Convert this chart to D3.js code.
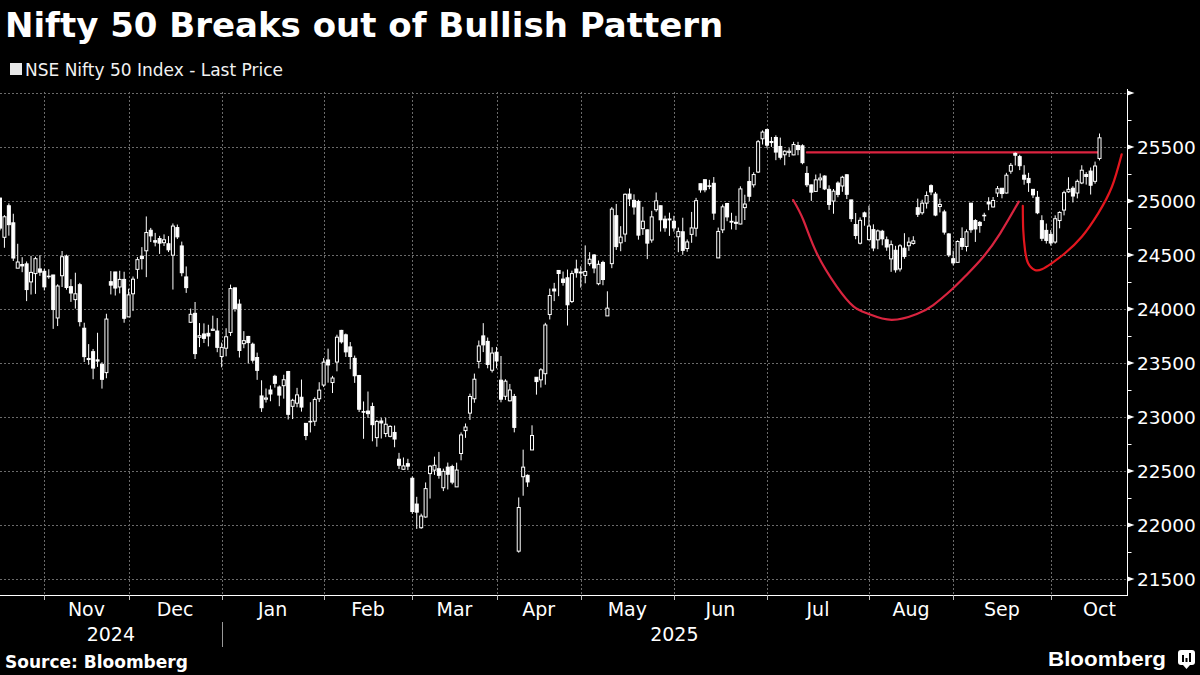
<!DOCTYPE html>
<html>
<head>
<meta charset="UTF-8">
<title>Nifty 50 Breaks out of Bullish Pattern</title>
<script src="https://d3js.org/d3.v7.min.js"></script>
<style>
  body { margin: 0; background: #000; }
  svg { display: block; background: #000; font-family: "DejaVu Sans", sans-serif; }
</style>
</head>
<body>
<svg id="chart" width="1200" height="675"></svg>
<script>
// trading days, one row per month
const dates = [
  "2024-10-17","2024-10-18","2024-10-21","2024-10-22","2024-10-23","2024-10-24","2024-10-25","2024-10-28","2024-10-29","2024-10-30","2024-10-31",
  "2024-11-01","2024-11-04","2024-11-05","2024-11-06","2024-11-07","2024-11-08","2024-11-11","2024-11-12","2024-11-13","2024-11-14","2024-11-18","2024-11-19","2024-11-21","2024-11-22","2024-11-25","2024-11-26","2024-11-27","2024-11-28","2024-11-29",
  "2024-12-02","2024-12-03","2024-12-04","2024-12-05","2024-12-06","2024-12-09","2024-12-10","2024-12-11","2024-12-12","2024-12-13","2024-12-16","2024-12-17","2024-12-18","2024-12-19","2024-12-20","2024-12-23","2024-12-24","2024-12-26","2024-12-27","2024-12-30","2024-12-31",
  "2025-01-01","2025-01-02","2025-01-03","2025-01-06","2025-01-07","2025-01-08","2025-01-09","2025-01-10","2025-01-13","2025-01-14","2025-01-15","2025-01-16","2025-01-17","2025-01-20","2025-01-21","2025-01-22","2025-01-23","2025-01-24","2025-01-27","2025-01-28","2025-01-29","2025-01-30","2025-01-31",
  "2025-02-01","2025-02-03","2025-02-04","2025-02-05","2025-02-06","2025-02-07","2025-02-10","2025-02-11","2025-02-12","2025-02-13","2025-02-14","2025-02-17","2025-02-18","2025-02-19","2025-02-20","2025-02-21","2025-02-24","2025-02-25","2025-02-27","2025-02-28",
  "2025-03-03","2025-03-04","2025-03-05","2025-03-06","2025-03-07","2025-03-10","2025-03-11","2025-03-12","2025-03-13","2025-03-17","2025-03-18","2025-03-19","2025-03-20","2025-03-21","2025-03-24","2025-03-25","2025-03-26","2025-03-27","2025-03-28",
  "2025-04-01","2025-04-02","2025-04-03","2025-04-04","2025-04-07","2025-04-08","2025-04-09","2025-04-11","2025-04-15","2025-04-16","2025-04-17","2025-04-21","2025-04-22","2025-04-23","2025-04-24","2025-04-25","2025-04-28","2025-04-29","2025-04-30",
  "2025-05-02","2025-05-05","2025-05-06","2025-05-07","2025-05-08","2025-05-09","2025-05-12","2025-05-13","2025-05-14","2025-05-15","2025-05-16","2025-05-19","2025-05-20","2025-05-21","2025-05-22","2025-05-23","2025-05-26","2025-05-27","2025-05-28","2025-05-29","2025-05-30",
  "2025-06-02","2025-06-03","2025-06-04","2025-06-05","2025-06-06","2025-06-09","2025-06-10","2025-06-11","2025-06-12","2025-06-13","2025-06-16","2025-06-17","2025-06-18","2025-06-19","2025-06-20","2025-06-23","2025-06-24","2025-06-25","2025-06-26","2025-06-27","2025-06-30",
  "2025-07-01","2025-07-02","2025-07-03","2025-07-04","2025-07-07","2025-07-08","2025-07-09","2025-07-10","2025-07-11","2025-07-14","2025-07-15","2025-07-16","2025-07-17","2025-07-18","2025-07-21","2025-07-22","2025-07-23","2025-07-24","2025-07-25","2025-07-28","2025-07-29","2025-07-30","2025-07-31",
  "2025-08-01","2025-08-04","2025-08-05","2025-08-06","2025-08-07","2025-08-08","2025-08-11","2025-08-12","2025-08-13","2025-08-14","2025-08-18","2025-08-19","2025-08-20","2025-08-21","2025-08-22","2025-08-25","2025-08-26","2025-08-28","2025-08-29",
  "2025-09-01","2025-09-02","2025-09-03","2025-09-04","2025-09-05","2025-09-08","2025-09-09","2025-09-10","2025-09-11","2025-09-12","2025-09-15","2025-09-16","2025-09-17","2025-09-18","2025-09-19","2025-09-22","2025-09-23","2025-09-24","2025-09-25","2025-09-26","2025-09-29","2025-09-30",
  "2025-10-01","2025-10-03","2025-10-06","2025-10-07","2025-10-08","2025-10-09","2025-10-10","2025-10-13","2025-10-14","2025-10-15","2025-10-16"
];

const opens = [
  25027,24664,24956,24798,24378,24412,24418,24251,24328,24371,24349,
  24302,24315,23917,24308,24489,24207,24087,24225,23822,23542,23605,23529,23488,23411,24253,24343,24204,24274,23927,
  24141,24367,24488,24539,24729,24633,24652,24614,24604,24498,24754,24584,24297,23877,23960,23738,23769,23775,23802,23796,23560,
  23637,23783,24196,24045,23679,23746,23674,23551,23195,23165,23250,23377,23278,23290,23421,23099,23128,23183,22941,22960,22961,23169,23296,
  23528,23319,23509,23802,23761,23649,23543,23384,23050,23055,23097,22809,22963,22847,22821,22857,22609,22516,22568,22433,
  22194,21975,22074,22476,22508,22521,22345,22536,22541,22353,22662,22874,23036,23169,23515,23751,23700,23433,23600,
  23341,23192,23150,23190,21758,22447,22460,22695,23368,23344,23401,23949,24185,24357,24277,24289,24070,24370,24342,
  24311,24420,24500,24234,24431,23936,24420,24864,24613,24694,25064,25006,24996,24744,24733,24639,24919,24956,24832,24825,24812,
  24669,24715,24560,24691,24748,25160,25197,25135,25164,24473,24733,24977,24804,24803,24787,24939,25180,25150,25268,25576,25661,
  25551,25588,25505,25428,25450,25427,25514,25511,25255,25149,25089,25196,25231,25108,24999,25166,25139,25243,25010,24782,24609,24890,24642,
  24735,24640,24720,24641,24464,24544,24371,24563,24586,24607,24938,24891,24980,25142,25064,24949,24899,24695,24466,
  24432,24653,24579,24980,24819,24802,24864,24991,24945,25074,25118,25074,25276,25441,25411,25239,25209,25108,25034,24818,24728,24691,
  24620,24819,24916,25085,25118,25074,25167,25245,25277,25182,25394
];

const highs = [
  25029,24869,24978,24882,24604,24480,24440,24492,24484,24498,24372,
  24368,24316,24229,24537,24503,24276,24336,24242,23873,23675,23630,23780,23507,23956,24351,24343,24354,24345,24188,
  24301,24481,24573,24857,24751,24705,24677,24691,24675,24792,24782,24624,24394,24004,24065,23870,23867,23854,23938,23916,23689,
  23822,24226,24196,24089,23795,23751,23689,23596,23340,23264,23293,23391,23292,23391,23427,23169,23270,23347,22942,23137,23183,23322,23546,
  23633,23381,23762,23807,23773,23694,23569,23390,23144,23236,23133,22974,22992,22994,22923,22921,22668,22625,22613,22450,
  22261,22105,22394,22556,22633,22677,22522,22578,22558,22577,22857,22940,23216,23402,23708,23869,23736,23646,23649,
  23565,23350,23306,23214,22255,22698,22468,22923,23368,23452,23872,24189,24242,24359,24347,24365,24355,24457,24396,
  24589,24526,24509,24449,24447,24164,24944,24973,24767,25070,25116,25062,25011,24946,24737,24909,25079,24958,24864,24892,24863,
  24754,24845,24644,24899,25029,25160,25199,25196,25222,24754,24967,24982,24891,24863,25136,25058,25317,25266,25565,25654,25669,
  25593,25608,25587,25470,25489,25548,25548,25525,25322,25151,25245,25255,25238,25145,25111,25182,25233,25247,25011,24889,24848,24902,24956,
  24784,24736,24733,24671,24634,24585,24600,24702,24664,24674,25022,25012,25089,25154,25084,25021,24919,24702,24541,
  24636,24756,24737,24980,24832,24814,24891,25035,25037,25139,25119,25261,25352,25449,25428,25331,25261,25111,25093,24868,24791,24731,
  24867,24904,25095,25220,25137,25199,25331,25267,25310,25365,25625
];

const lows = [
  24728,24567,24679,24445,24378,24341,24073,24134,24140,24307,24172,
  24280,23816,23842,24204,24179,24066,24004,23839,23509,23484,23350,23464,23263,23359,24135,24125,24145,23873,23927,
  23981,24280,24366,24295,24620,24580,24510,24583,24527,24180,24648,24303,24149,23870,23537,23647,23685,23654,23800,23600,23460,
  23562,23751,23976,23551,23637,23496,23503,23344,23047,23134,23146,23272,23100,23170,22977,22981,23090,23050,22786,22857,22917,23139,23277,
  23318,23222,23423,23680,23556,23443,23316,23046,22798,22992,22775,22725,22801,22814,22812,22720,22518,22513,22508,22105,
  21964,21965,22068,22245,22464,22429,22314,22329,22377,22353,22599,22807,22973,23132,23451,23601,23451,23412,23451,
  23136,23158,23145,22858,21744,22271,22353,22695,23207,23273,23299,23903,24073,24119,24216,23847,24055,24290,24198,
  24238,24400,24331,24220,24220,23936,24378,24547,24535,24621,24953,24874,24642,24686,24462,24614,24900,24717,24715,24677,24717,
  24526,24502,24530,24613,24671,25077,25081,25109,24825,24473,24703,24813,24737,24733,24784,24824,24999,25125,25259,25523,25489,
  25501,25378,25384,25331,25407,25424,25424,25340,25129,25001,25088,25121,25101,24918,24882,25035,25085,25018,24807,24646,24598,24771,24635,
  24535,24554,24590,24539,24344,24337,24347,24465,24539,24596,24852,24873,24930,25054,24859,24894,24689,24481,24404,
  24432,24547,24533,24706,24621,24706,24815,24915,24940,25037,25025,25070,25252,25329,25286,25151,25084,25027,24878,24629,24606,24587,
  24605,24747,24867,25076,24987,25024,25156,25152,25060,25160,25376
];

const closes = [
  24749,24854,24781,24472,24435,24399,24180,24339,24466,24341,24205,
  24304,23995,24213,24484,24199,24148,24141,23883,23559,23532,23453,23518,23349,23907,24221,24194,24274,23914,24131,
  24276,24457,24467,24708,24677,24619,24610,24641,24548,24768,24668,24336,24198,23951,23587,23753,23728,23750,23813,23645,23645,
  23743,24189,24005,23616,23707,23689,23526,23432,23086,23176,23213,23312,23203,23345,23025,23155,23205,23092,22829,22957,23163,23249,23508,
  23482,23361,23739,23696,23603,23560,23382,23072,23045,23031,22929,22959,22945,22933,22913,22796,22553,22547,22545,22125,
  22119,22083,22337,22545,22553,22460,22497,22470,22397,22509,22834,22907,23190,23350,23658,23668,23487,23592,23519,
  23165,23332,23250,22904,22162,22536,22399,22829,23328,23437,23852,24125,24167,24329,24246,24039,24328,24336,24334,
  24347,24461,24380,24414,24273,24008,24925,24578,24666,25062,25020,24945,24684,24813,24610,24853,25001,24826,24752,24834,24751,
  24717,24543,24621,24751,25003,25103,25104,25141,24888,24718,24946,24853,24812,24793,25112,24972,25044,25245,25549,25638,25517,
  25541,25453,25405,25461,25461,25523,25476,25355,25150,25082,25196,25212,25112,24968,25091,25061,25220,25062,24837,24681,24821,24855,24768,
  24565,24723,24650,24574,24596,24363,24585,24487,24619,24631,24877,24980,25051,25084,24870,24968,24712,24501,24427,
  24625,24580,24715,24734,24741,24773,24868,24973,25005,25114,25069,25239,25330,25424,25327,25202,25170,25057,24891,24655,24635,24611,
  24836,24894,25077,25108,25046,25182,25285,25227,25146,25324,25585
];

// hand-drawn annotations, as [trading-day index, price]
const resistanceLevel = 25450;
const resistanceFrom = 182;
const cupPoints = [
  [178.9, 25009], [181.2, 24824], [184.2, 24519], [188.7, 24210], [192.5, 24025], [195.9, 23955],
  [201.1, 23900], [206.8, 23954], [210.5, 24037], [214.8, 24185], [218.0, 24315], [221.8, 24484],
  [225.6, 24701], [229.8, 24994]
];
const handlePoints = [
  [230.7, 24956], [230.8, 24731], [231.2, 24546], [231.9, 24423], [233.4, 24361], [235.0, 24368],
  [237.2, 24423], [240.2, 24516], [244.0, 24669], [247.7, 24886], [250.8, 25132], [253.0, 25432]
];

const priceTicks = [21500, 22000, 22500, 23000, 23500, 24000, 24500, 25000, 25500, 26000];
const minorTicks = [21750, 22250, 22750, 23250, 23750, 24250, 24750, 25250, 25750];

const svg = d3.select("#chart");
const plot = { left: 0, right: 1127, top: 92, bottom: 595 };
const n = dates.length;
const step = 4.4335;

const x = d3.scaleLinear().domain([0, n - 1]).range([0, (n - 1) * step]);
const y = d3.scaleLinear().domain([21352, 26000]).range([plot.bottom, 93]);

const parse = d3.timeParse("%Y-%m-%d");
const days = dates.map(parse);
const months = d3.groups(d3.range(n), i => d3.timeFormat("%Y-%m")(days[i]))
  .map(([key, idx]) => ({ key, first: idx[0], date: days[idx[0]] }));
// Bloomberg puts the month divider on the last session of the month before
const monthTicks = months.slice(1).map(m => ({ ...m, x: x(m.first - 1) }));
monthTicks.forEach((m, k) => {
  const next = monthTicks[k + 1] ? monthTicks[k + 1].x : m.x + 22 * step;
  m.mid = (m.x + next) / 2;
});

svg.append("defs").append("clipPath").attr("id", "clip")
  .append("rect")
  .attr("x", plot.left).attr("y", plot.top)
  .attr("width", plot.right - plot.left).attr("height", plot.bottom - plot.top);

// gridlines
let grid = svg.append("g").attr("stroke", "#6a6a6a").attr("stroke-dasharray", "2,2").attr("stroke-width", 1);
grid.selectAll("line.h").data(priceTicks).join("line")
  .attr("class", "h")
  .attr("x1", plot.left).attr("x2", plot.right)
  .attr("y1", d => Math.round(y(d)) + 0.5).attr("y2", d => Math.round(y(d)) + 0.5);
grid.selectAll("line.v").data(monthTicks).join("line")
  .attr("class", "v")
  .attr("x1", d => Math.round(d.x) + 0.5).attr("x2", d => Math.round(d.x) + 0.5)
  .attr("y1", plot.top).attr("y2", plot.bottom);

// red pattern annotations
let notes = svg.append("g").attr("fill", "none").attr("stroke-linecap", "round");
let curve = d3.line().x(d => x(d[0])).y(d => y(d[1])).curve(d3.curveNatural);
notes.append("line")
  .attr("x1", x(resistanceFrom)).attr("x2", x(n - 1))
  .attr("y1", y(resistanceLevel)).attr("y2", y(resistanceLevel))
  .attr("stroke", "#dc2440").attr("stroke-width", 2.2);
notes.append("path").attr("d", curve(cupPoints))
  .attr("stroke", "#d8243f").attr("stroke-width", 2.2);
notes.append("path").attr("d", curve(handlePoints))
  .attr("stroke", "#e3161e").attr("stroke-width", 2.2);

// candlesticks: hollow when close >= open, filled when it fell
let candles = d3.range(n).map(i => ({ i, o: opens[i], h: highs[i], l: lows[i], c: closes[i] }));
let chartArea = svg.append("g").attr("clip-path", "url(#clip)");
chartArea.selectAll("line.wick").data(candles).join("line")
  .attr("class", "wick")
  .attr("x1", d => x(d.i)).attr("x2", d => x(d.i))
  .attr("y1", d => y(d.h)).attr("y2", d => y(d.l))
  .attr("stroke", "#fff").attr("stroke-width", 1);
chartArea.selectAll("rect.body").data(candles).join("rect")
  .attr("class", "body")
  .attr("x", d => x(d.i) - 1.5).attr("width", 3)
  .attr("y", d => y(Math.max(d.o, d.c)))
  .attr("height", d => Math.max(0.6, Math.abs(y(d.o) - y(d.c))))
  .attr("fill", d => d.c >= d.o ? "#000" : "#fff")
  .attr("stroke", "#fff").attr("stroke-width", 1);

// x axis
let xAxis = svg.append("g");
xAxis.append("line")
  .attr("x1", plot.left).attr("x2", plot.right + 1)
  .attr("y1", plot.bottom + 0.5).attr("y2", plot.bottom + 0.5)
  .attr("stroke", "#fff");
xAxis.selectAll("line.tick").data(monthTicks).join("line")
  .attr("class", "tick")
  .attr("x1", d => Math.round(d.x) + 0.5).attr("x2", d => Math.round(d.x) + 0.5)
  .attr("y1", plot.bottom).attr("y2", plot.bottom + 5)
  .attr("stroke", "#bbb");
xAxis.selectAll("text.month").data(monthTicks).join("text")
  .attr("class", "month")
  .attr("x", d => d.mid).attr("y", 616)
  .attr("text-anchor", "middle")
  .attr("fill", "#fff").attr("font-size", 19)
  .text(d => d3.timeFormat("%b")(d.date));

// year labels with a divider at the turn of the year
let janTick = monthTicks.find(m => m.date.getMonth() === 0);
let years = [
  { label: "2024", from: plot.left, to: janTick.x },
  { label: "2025", from: janTick.x, to: plot.right }
];
xAxis.selectAll("text.year").data(years).join("text")
  .attr("class", "year")
  .attr("x", d => (d.from + d.to) / 2).attr("y", 641)
  .attr("text-anchor", "middle")
  .attr("fill", "#fff").attr("font-size", 19)
  .text(d => d.label);
xAxis.append("line")
  .attr("x1", Math.round(janTick.x) + 0.5).attr("x2", Math.round(janTick.x) + 0.5)
  .attr("y1", 622).attr("y2", 647)
  .attr("stroke", "#999");

// right price axis
let ax = plot.right + 0.5;
let yAxis = svg.append("g");
yAxis.append("line")
  .attr("x1", ax).attr("x2", ax)
  .attr("y1", 89).attr("y2", plot.bottom + 1)
  .attr("stroke", "#fff");
yAxis.selectAll("path.major").data(priceTicks).join("path")
  .attr("class", "major")
  .attr("d", d => `M${ax},${y(d) - 2.5}L${ax + 7},${y(d)}L${ax},${y(d) + 2.5}Z`)
  .attr("fill", "#fff");
yAxis.selectAll("line.minor").data(minorTicks).join("line")
  .attr("class", "minor")
  .attr("x1", ax).attr("x2", ax + 4)
  .attr("y1", d => Math.round(y(d)) + 0.5).attr("y2", d => Math.round(y(d)) + 0.5)
  .attr("stroke", "#fff");
yAxis.selectAll("text").data(priceTicks.filter(d => d < 26000)).join("text")
  .attr("x", 1137).attr("y", d => y(d)).attr("dy", "0.36em")
  .attr("fill", "#fff").attr("font-size", 18.5)
  .text(d => d);

// header
svg.append("text")
  .attr("x", 5).attr("y", 37)
  .attr("fill", "#fff").attr("font-size", 34).attr("font-weight", "bold")
  .text("Nifty 50 Breaks out of Bullish Pattern");
svg.append("rect")
  .attr("x", 10).attr("y", 63).attr("width", 12).attr("height", 12)
  .attr("fill", "#e8e8e8");
svg.append("text")
  .attr("x", 25).attr("y", 76)
  .attr("fill", "#f2f2f2").attr("font-size", 17)
  .text("NSE Nifty 50 Index - Last Price");

// footer
svg.append("text")
  .attr("x", 5).attr("y", 668)
  .attr("fill", "#fff").attr("font-size", 17).attr("font-weight", "bold")
  .text("Source: Bloomberg");
svg.append("text")
  .attr("x", 1048).attr("y", 666)
  .attr("fill", "#fff").attr("font-size", 21).attr("font-weight", "bold")
  .attr("font-family", "'Liberation Sans', Arial, sans-serif")
  .attr("textLength", 118).attr("lengthAdjust", "spacingAndGlyphs")
  .text("Bloomberg");
let logo = svg.append("g").attr("transform", "translate(1178,650)");
logo.append("rect").attr("width", 17).attr("height", 15).attr("rx", 3).attr("fill", "#fff");
logo.append("path").attr("d", "M5,15L8.5,19L12,15Z").attr("fill", "#fff");
logo.selectAll("rect.bar").data([[4, 7], [7.5, 4], [11, 9]]).join("rect")
  .attr("class", "bar")
  .attr("x", d => d[0]).attr("y", d => 13 - d[1] - 1)
  .attr("width", 2).attr("height", d => d[1])
  .attr("fill", "#000");
</script>
</body>
</html>
